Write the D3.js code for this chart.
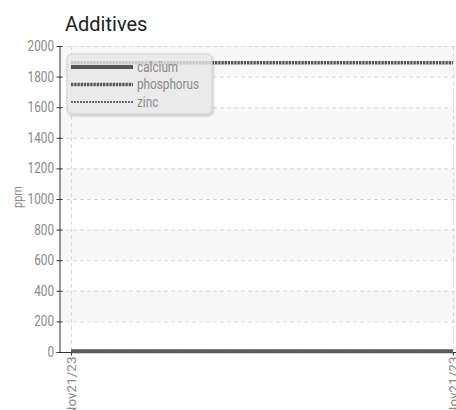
<!DOCTYPE html>
<html>
<head>
<meta charset="utf-8">
<script src="https://cdn.jsdelivr.net/npm/d3@7"></script>
<style>
  body { margin: 0; background: #fff; }
  svg { display: block; font-family: Roboto, sans-serif; }
</style>
</head>
<body>
<div id="chart"></div>
<script>
// Data
const dates = ["2023-11-21T08:00", "2023-11-21T20:00"];
const calcium = [5, 5];
const phosphorus = [1890, 1890];
const zinc = [8, 8];
const yTicks = [0, 200, 400, 600, 800, 1000, 1200, 1400, 1600, 1800, 2000];

const seriesNames = ["calcium", "phosphorus", "zinc"];
const seriesValues = { calcium, phosphorus, zinc };
const seriesStyle = {
    calcium: { width: 4, dash: null, color: "#555" },
    phosphorus: { width: 3.5, dash: "2.4,0.8", color: "#555" },
    zinc: { width: 2, dash: "2,1", color: "#666" }
};

const W = 456, H = 410;
const margin = { top: 46, right: 3, bottom: 58, left: 59 };
const squeeze = 0.84; // narrow the glyphs like a condensed face
const parse = d3.timeParse("%Y-%m-%dT%H:%M");
const xDates = dates.map(parse);

const svg = d3.select("#chart").append("svg")
    .attr("width", W).attr("height", H);

const defs = svg.append("defs");
const f = defs.append("filter").attr("id", "shadow").attr("x", "-10%").attr("y", "-10%").attr("width", "130%").attr("height", "140%");
f.append("feDropShadow").attr("dx", 1).attr("dy", 1.5).attr("stdDeviation", 1.2).attr("flood-color", "#000").attr("flood-opacity", 0.25);

const x = d3.scaleTime()
    .domain(d3.extent(xDates))
    .range([71, 453]);

const y = d3.scaleLinear()
    .domain([0, 2000])
    .range([H - margin.bottom, margin.top]);

// Title
svg.append("text")
    .attr("x", 65).attr("y", 31)
    .style("font-size", "20px")
    .style("fill", "#222")
    .text("Additives");

// Alternating bands
const bands = [];
for (let i = 0; i < yTicks.length - 1; i++) {
    if (i % 2 === 1) bands.push([yTicks[i], yTicks[i + 1]]);
}
svg.append("g").selectAll("rect")
    .data(bands).enter().append("rect")
    .attr("x", margin.left + 1)
    .attr("width", W - margin.left - 1)
    .attr("y", d => y(d[1]))
    .attr("height", d => y(d[0]) - y(d[1]))
    .style("fill", "#f7f7f7");

// Grid
svg.append("g").selectAll("line")
    .data(yTicks.slice(1)).enter().append("line")
    .attr("x1", margin.left).attr("x2", W)
    .attr("y1", d => y(d) + 0.5).attr("y2", d => y(d) + 0.5)
    .style("stroke", "#d8d8d8").style("stroke-dasharray", "4,3");

svg.append("g").selectAll("line")
    .data(xDates).enter().append("line")
    .attr("x1", d => x(d) + 0.5).attr("x2", d => x(d) + 0.5)
    .attr("y1", y(2000)).attr("y2", y(0))
    .style("stroke", "#d8d8d8").style("stroke-dasharray", "4,3");

// Y axis
const yAxis = svg.append("g")
    .attr("transform", `translate(${margin.left + 0.5},0)`)
    .call(d3.axisLeft(y).tickValues(yTicks).tickFormat(d3.format("d")).tickSize(5).tickSizeOuter(0));
yAxis.select(".domain").style("stroke", "#333");
yAxis.selectAll(".tick line").attr("x1", 3).attr("x2", -3).style("stroke", "#333");
yAxis.selectAll(".tick text")
    .attr("x", -5.5 / squeeze)
    .attr("transform", `scale(${squeeze},1)`)
    .style("font-family", "Roboto, sans-serif")
    .style("font-size", "14px")
    .style("fill", "#888");

// X axis
const xAxis = svg.append("g")
    .attr("transform", `translate(0,${y(0) + 0.5})`)
    .call(d3.axisBottom(x).tickValues(xDates).tickFormat(d3.timeFormat("%b%d/%y")).tickSize(3).tickSizeOuter(0));
xAxis.select(".domain").attr("d", `M${margin.left},0H${W}`).style("stroke", "#333");
xAxis.selectAll(".tick line").style("stroke", "#333");
xAxis.selectAll(".tick text")
    .attr("transform", "rotate(-90)")
    .attr("x", -4).attr("y", 0).attr("dy", "0.35em")
    .style("text-anchor", "end")
    .style("font-family", "Roboto, sans-serif")
    .style("font-size", "13.5px")
    .style("fill", "#888");

// Y label
svg.append("text")
    .attr("transform", `translate(22,${(y(0) + y(2000)) / 2 - 2}) rotate(-90) scale(${squeeze},1)`)
    .attr("text-anchor", "middle")
    .style("font-size", "13px")
    .style("fill", "#888")
    .text("ppm");

// Lines
const line = d3.line().x((d, i) => x(xDates[i])).y(d => y(d));
svg.append("g").selectAll("path")
    .data(seriesNames).enter().append("path")
    .attr("d", s => line(seriesValues[s]))
    .style("fill", "none")
    .style("stroke", s => seriesStyle[s].color)
    .style("stroke-width", s => seriesStyle[s].width)
    .style("stroke-dasharray", s => seriesStyle[s].dash);

// Legend
const lg = svg.append("g").attr("transform", "translate(67,54)");
lg.append("rect")
    .attr("width", 145).attr("height", 60).attr("rx", 5)
    .style("fill", "rgba(236,236,236,0.75)")
    .style("stroke", "#d0d0d0")
    .attr("filter", "url(#shadow)");
const items = lg.selectAll("g.item")
    .data(seriesNames).enter().append("g")
    .attr("transform", (d, i) => `translate(4,${13 + i * 17.5})`);
items.append("line")
    .attr("x1", 0).attr("x2", 62)
    .style("stroke", s => seriesStyle[s].color)
    .style("stroke-width", s => seriesStyle[s].width)
    .style("stroke-dasharray", s => seriesStyle[s].dash);
items.append("text")
    .attr("transform", `translate(66,0) scale(${squeeze},1)`)
    .attr("dy", "0.35em")
    .style("font-size", "14px")
    .style("fill", "#888")
    .text(d => d);
</script>
</body>
</html>
